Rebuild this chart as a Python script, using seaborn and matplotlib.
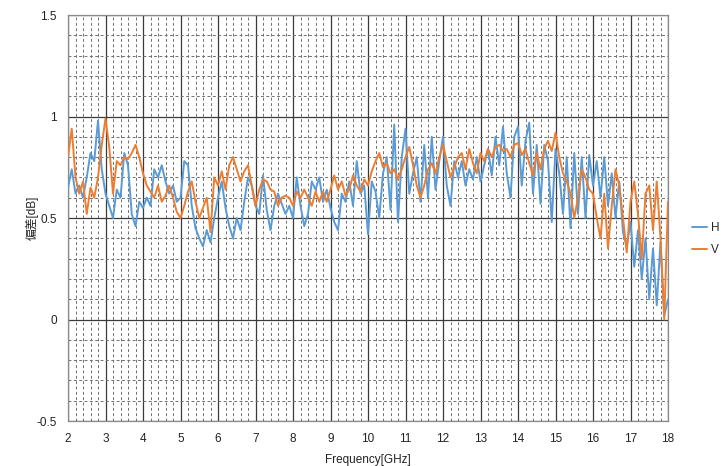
import numpy as np
import pandas as pd
import matplotlib
matplotlib.use("Agg")
import matplotlib.pyplot as plt
from matplotlib.ticker import MultipleLocator
from matplotlib.lines import Line2D
import seaborn as sns

# Frequency grid (GHz), 0.1 GHz step
freq = np.round(np.arange(2.0, 18.0001, 0.1), 1)

h_vals = [
    0.65, 0.74, 0.62, 0.66, 0.60, 0.70, 0.82, 0.78, 0.98, 0.74,   # 2.x
    0.62, 0.56, 0.50, 0.64, 0.60, 0.82, 0.76, 0.52, 0.46, 0.58,   # 3.x
    0.55, 0.60, 0.56, 0.74, 0.70, 0.76, 0.68, 0.62, 0.66, 0.58,   # 4.x
    0.60, 0.78, 0.76, 0.56, 0.45, 0.40, 0.36, 0.44, 0.38, 0.50,   # 5.x
    0.60, 0.68, 0.55, 0.46, 0.40, 0.50, 0.44, 0.58, 0.70, 0.66,   # 6.x
    0.56, 0.52, 0.71, 0.54, 0.44, 0.56, 0.62, 0.57, 0.52, 0.56,   # 7.x
    0.50, 0.70, 0.56, 0.46, 0.52, 0.68, 0.64, 0.70, 0.58, 0.64,   # 8.x
    0.55, 0.48, 0.44, 0.62, 0.58, 0.68, 0.56, 0.78, 0.62, 0.66,   # 9.x
    0.42, 0.68, 0.63, 0.50, 0.72, 0.80, 0.54, 0.96, 0.48, 0.80,   # 10.x
    0.94, 0.62, 0.72, 0.80, 0.58, 0.86, 0.60, 0.90, 0.64, 0.78,   # 11.x
    0.90, 0.66, 0.56, 0.78, 0.70, 0.78, 0.66, 0.74, 0.69, 0.80,   # 12.x
    0.68, 0.76, 0.84, 0.71, 0.90, 0.76, 0.95, 0.72, 0.60, 0.90,   # 13.x
    0.95, 0.66, 0.88, 0.97, 0.62, 0.86, 0.57, 0.86, 0.78, 0.48,   # 14.x
    0.84, 0.72, 0.52, 0.80, 0.45, 0.82, 0.52, 0.80, 0.50, 0.81,   # 15.x
    0.66, 0.78, 0.60, 0.80, 0.56, 0.72, 0.50, 0.68, 0.43, 0.36,   # 16.x
    0.48, 0.26, 0.44, 0.20, 0.40, 0.10, 0.35, 0.07, 0.38, 0.02,   # 17.x
    0.10,                                                         # 18.0
]

v_vals = [
    0.80, 0.94, 0.70, 0.62, 0.68, 0.52, 0.65, 0.60, 0.70, 0.86,   # 2.x
    0.99, 0.85, 0.62, 0.78, 0.76, 0.80, 0.79, 0.82, 0.86, 0.80,   # 3.x
    0.72, 0.66, 0.63, 0.60, 0.66, 0.58, 0.61, 0.66, 0.60, 0.53,   # 4.x
    0.50, 0.56, 0.63, 0.68, 0.58, 0.50, 0.55, 0.60, 0.43, 0.70,   # 5.x
    0.66, 0.73, 0.64, 0.76, 0.80, 0.74, 0.68, 0.73, 0.76, 0.66,   # 6.x
    0.56, 0.64, 0.69, 0.68, 0.64, 0.63, 0.56, 0.60, 0.61, 0.60,   # 7.x
    0.56, 0.63, 0.60, 0.64, 0.60, 0.56, 0.63, 0.58, 0.63, 0.58,   # 8.x
    0.64, 0.71, 0.64, 0.68, 0.61, 0.64, 0.71, 0.66, 0.63, 0.69,   # 9.x
    0.66, 0.73, 0.78, 0.82, 0.75, 0.77, 0.72, 0.74, 0.69, 0.74,   # 10.x
    0.80, 0.85, 0.76, 0.66, 0.60, 0.66, 0.74, 0.77, 0.72, 0.80,   # 11.x
    0.86, 0.78, 0.70, 0.75, 0.80, 0.82, 0.74, 0.84, 0.77, 0.72,   # 12.x
    0.82, 0.78, 0.84, 0.80, 0.85, 0.86, 0.83, 0.84, 0.80, 0.86,   # 13.x
    0.87, 0.81, 0.84, 0.77, 0.71, 0.82, 0.74, 0.84, 0.88, 0.83,   # 14.x
    0.92, 0.80, 0.72, 0.68, 0.62, 0.50, 0.60, 0.74, 0.70, 0.64,   # 15.x
    0.62, 0.50, 0.40, 0.62, 0.35, 0.56, 0.74, 0.66, 0.50, 0.33,   # 16.x
    0.58, 0.68, 0.52, 0.30, 0.62, 0.66, 0.44, 0.68, 0.40, 0.00,   # 17.x
    0.58,                                                         # 18.0
]

series_names = ["H", "V"]
colors = ["#5B9BD5", "#ED7D31"]
x_ticks = list(range(2, 19))
y_ticks = [-0.5, 0, 0.5, 1, 1.5]
y_tick_labels = ["-0.5", "0", "0.5", "1", "1.5"]
x_label = "Frequency[GHz]"
y_label = "偏差[dB]"

n = min(len(freq), len(h_vals), len(v_vals))
df = pd.DataFrame({
    "freq": np.concatenate([freq[:n], freq[:n]]),
    "value": np.concatenate([h_vals[:n], v_vals[:n]]),
    "series": ["H"] * n + ["V"] * n,
})

sns.set_style("white")
plt.rcParams["font.family"] = ["Liberation Sans", "Noto Sans CJK JP", "DejaVu Sans"]

fig = plt.figure(figsize=(7.24, 4.66), dpi=100)
ax = fig.add_axes([68 / 724, 1 - 421 / 466, 600 / 724, 406 / 466])

sns.lineplot(data=df, x="freq", y="value", hue="series", hue_order=series_names,
             palette=colors, linewidth=1.4, ax=ax, legend=False, estimator=None,
             sort=False, zorder=3)

ax.set_xlim(2, 18)
ax.set_ylim(-0.5, 1.5)
ax.set_xticks(x_ticks)
ax.set_xticklabels([str(t) for t in x_ticks])
ax.set_yticks(y_ticks)
ax.set_yticklabels(y_tick_labels)
ax.xaxis.set_minor_locator(MultipleLocator(0.2))
ax.yaxis.set_minor_locator(MultipleLocator(0.1))
ax.grid(which="major", color="#3a3a3a", linewidth=0.9, linestyle="-", zorder=1)
ax.grid(which="minor", color="#707070", linewidth=0.7, linestyle=(0, (3, 2.5)), zorder=1)
ax.set_axisbelow(True)
ax.tick_params(which="both", length=0, labelsize=8.5, colors="#222222")
ax.tick_params(axis="x", pad=9)
ax.tick_params(axis="y", pad=8)
for s in ax.spines.values():
    s.set_color("#8a8a8a")
    s.set_linewidth(0.9)

ax.set_xlabel(x_label, fontsize=8.5, color="#222222", labelpad=6)
ax.set_ylabel(y_label, fontsize=8.5, color="#222222")
ax.yaxis.set_label_coords((39 - 68) / 600, 0.5)

handles = [Line2D([0], [0], color=c, lw=1.4) for c in colors]
fig.legend(handles, series_names, loc="center left", bbox_to_anchor=(692 / 724, 1 - 239 / 466),
           frameon=False, fontsize=8.5, handlelength=1.3, handletextpad=0.3,
           labelspacing=0.9, borderaxespad=0, borderpad=0)

fig.savefig("out.png", dpi=100, facecolor="white")
